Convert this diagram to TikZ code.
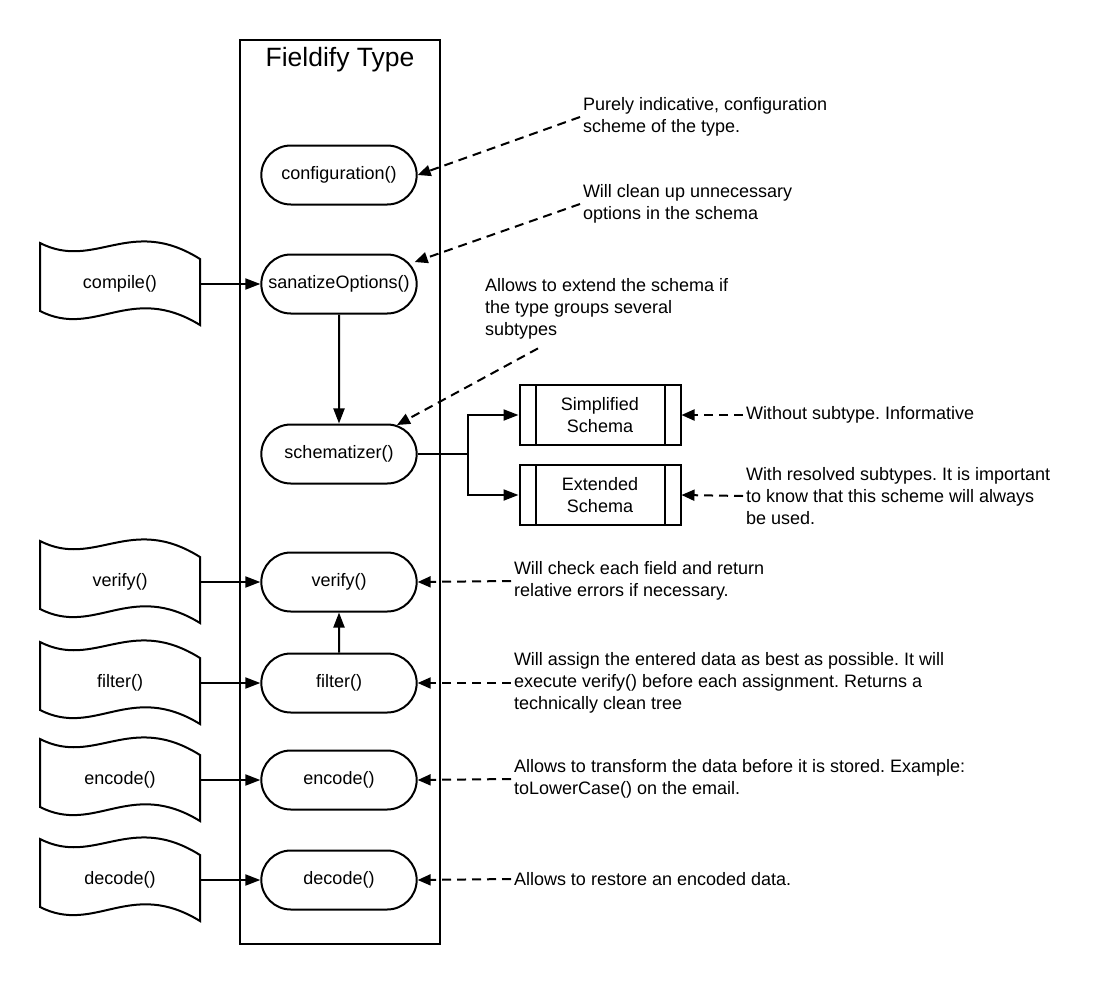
\documentclass[tikz,border=0pt]{standalone}
\usepackage{fontspec}
\setmainfont{Liberation Sans}
\usetikzlibrary{arrows.meta,shapes.misc}
\frenchspacing

\begin{document}
\begin{tikzpicture}[x=1pt,y=-1pt,line width=2pt,
  every node/.style={font=\fontsize{18}{22}\selectfont},
  pill/.style={draw,rounded rectangle,minimum width=162pt,minimum height=59pt},
  tape/.style={minimum width=160pt,minimum height=66pt,inner sep=0pt},
  schemabox/.style={draw,align=center,minimum width=161pt,minimum height=60pt},
  note/.style={anchor=west,align=left,inner sep=2pt},
  flow/.style={-{Triangle[length=15pt,width=11pt]}},
  hint/.style={-{Triangle[length=13pt,width=11pt]},dash pattern=on 9pt off 6pt}]
\useasboundingbox (0,0) rectangle (1100,985);

\node[draw,minimum width=200pt,minimum height=904pt] (type) at (340,492) {};
\node[font=\fontsize{26.5}{30}\selectfont] (title) at (340,60) {Fieldify Type};

\node[pill] (cfg)  at (339,175) {configuration()};
\node[pill] (san)  at (339,284) {sanatizeOptions()};
\node[pill] (sch)  at (339,454) {schematizer()};
\node[pill] (ver)  at (339,582) {verify()};
\node[pill] (filt) at (339,683) {filter()};
\node[pill] (enc)  at (339,780) {encode()};
\node[pill] (dec)  at (339,880) {decode()};

\node[tape] (tcompile) at (120,284) {compile()};
\node[tape] (tverify)  at (120,582) {verify()};
\node[tape] (tfilter)  at (120,683) {filter()};
\node[tape] (tencode)  at (120,780) {encode()};
\node[tape] (tdecode)  at (120,880) {decode()};
\foreach \t in {tcompile,tverify,tfilter,tencode,tdecode}
  \draw[shift={(\t.center)}] (-80,-41) .. controls (-25,-13) and (10,-69) .. (80,-25)
    -- (80,41) .. controls (10,-2) and (-25,55) .. (-80,27) -- cycle;

\node[schemabox] (simp) at (600,415) {Simplified\\Schema};
\node[schemabox] (ext)  at (600,495) {Extended\\Schema};
\foreach \b in {simp,ext} {
  \draw ([xshift=17pt]\b.north west) -- ([xshift=17pt]\b.south west);
  \draw ([xshift=-17pt]\b.north east) -- ([xshift=-17pt]\b.south east);
}

\foreach \a/\b in {tcompile/san,tverify/ver,tfilter/filt,tencode/enc,tdecode/dec}
  \draw[flow] (\a.east) -- (\b.west);
\draw[flow] (san) -- (sch);
\draw[flow] (filt) -- (ver);
\draw[flow] (sch.east) -- ++(50,0) |- (simp.west);
\draw[flow] (sch.east) -- ++(50,0) |- (ext.west);

\node[note] (ncfg)  at (580,117) {Purely indicative, configuration\\scheme of the type.};
\node[note] (nsan)  at (580,204) {Will clean up unnecessary\\options in the schema};
\node[note] (nsch)  at (482,309) {Allows to extend the schema if\\the type groups several\\subtypes};
\node[note] (nsimp) at (743,415) {Without subtype. Informative};
\node[note] (next)  at (743,496) {With resolved subtypes. It is important\\to know that this scheme will always\\be used.};
\node[note] (nver)  at (511,581) {Will check each field and return\\relative errors if necessary.};
\node[note] (nfilt) at (511,683) {Will assign the entered data as best as possible. It will\\execute verify() before each assignment. Returns a\\technically clean tree};
\node[note] (nenc)  at (511,779) {Allows to transform the data before it is stored. Example:\\toLowerCase() on the email.};
\node[note] (ndec)  at (511,879) {Allows to restore an encoded data.};

\draw[hint] (ncfg.west) -- (cfg.east);
\draw[hint] (nsan.west) -- ([shift={(-3,-22)}]san.east);
\draw[hint] ([shift={(56,6)}]nsch.south west) -- ([shift={(58,-29)}]sch.center);
\draw[hint] (nsimp.west) -- (simp.east);
\draw[hint] (next.west) -- (ext.east);
\foreach \n/\p in {nver/ver,nfilt/filt,nenc/enc,ndec/dec}
  \draw[hint] (\n.west) -- (\p.east);
\end{tikzpicture}
\end{document}
